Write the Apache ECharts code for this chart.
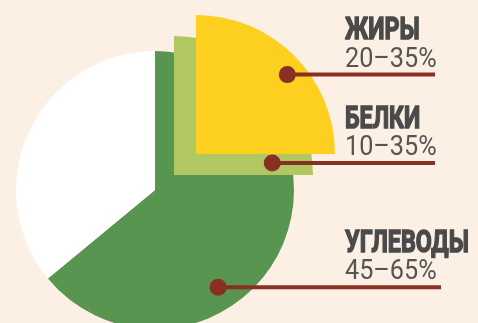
<!DOCTYPE html>
<html>
<head>
<meta charset="utf-8">
<script src="https://cdn.jsdelivr.net/npm/echarts@6/dist/echarts.min.js"></script>
<style>
  html, body { margin: 0; padding: 0; background: #fcefe3; }
  #chart { width: 478px; height: 323px; }
</style>
</head>
<body>
<div id="chart"></div>
<script>
// nutrient names, recommended ranges and the drawn share of each sector
const categories = ['ЖИРЫ', 'БЕЛКИ', 'УГЛЕВОДЫ'];
const ranges = ['20–35%', '10–35%', '45–65%'];
const shares = [25, 25, 64];

const colors = ['#fdcf1e', '#b1c762', '#589550'];
const restColor = '#ffffff';
const markColor = '#8a2f24';

// sector centers (px), one pie per nutrient, drawn bottom to top
const centers = [[196, 154], [174, 175], [155, 190]];
const radius = 139;
// where each callout dot sits: [angle deg from east, ccw; distance from center]
const dotPolar = [[41, 121], [7, 99], [-57, 116]];
const lineEnd = [435, 435, 441];

const chart = echarts.init(document.getElementById('chart'));

const series = [];
// main circle first, then the pulled out quarters on top
[2, 1, 0].forEach((i) => {
  const rest = i === 2 ? restColor : 'transparent';
  series.push({
    type: 'pie',
    center: centers[i],
    radius: radius,
    startAngle: 90,
    clockwise: true,
    silent: true,
    animation: false,
    label: { show: false },
    labelLine: { show: false },
    emphasis: { disabled: true },
    data: [
      { name: categories[i], value: shares[i], itemStyle: { color: colors[i] } },
      { name: 'rest', value: 100 - shares[i], itemStyle: { color: rest } },
    ],
  });
});

const graphic = [];
categories.forEach((name, i) => {
  const a = (dotPolar[i][0] * Math.PI) / 180;
  const dx = centers[i][0] + Math.cos(a) * dotPolar[i][1];
  const dy = centers[i][1] - Math.sin(a) * dotPolar[i][1];
  graphic.push({
    type: 'line',
    shape: { x1: dx, y1: dy, x2: lineEnd[i], y2: dy },
    style: { stroke: markColor, lineWidth: 4 },
    z: 10,
  });
  graphic.push({
    type: 'circle',
    shape: { cx: dx, cy: dy, r: 8.5 },
    style: { fill: markColor },
    z: 11,
  });
  graphic.push({
    type: 'text',
    x: 345,
    y: dy - 43,
    scaleX: 0.75,
    style: {
      text: name,
      fill: '#4a4a4a',
      stroke: '#4a4a4a',
      lineWidth: 1.5,
      font: 'bold 31px Roboto',
      verticalAlign: 'middle',
      align: 'left',
    },
    z: 10,
  });
  graphic.push({
    type: 'text',
    x: 345,
    y: dy - 15,
    scaleX: 0.9,
    style: {
      text: ranges[i],
      fill: '#555555',
      font: '28px Roboto',
      verticalAlign: 'middle',
      align: 'left',
    },
    z: 10,
  });
});

chart.setOption({
  backgroundColor: '#fcefe3',
  animation: false,
  series: series,
  graphic: graphic,
});
</script>
</body>
</html>
